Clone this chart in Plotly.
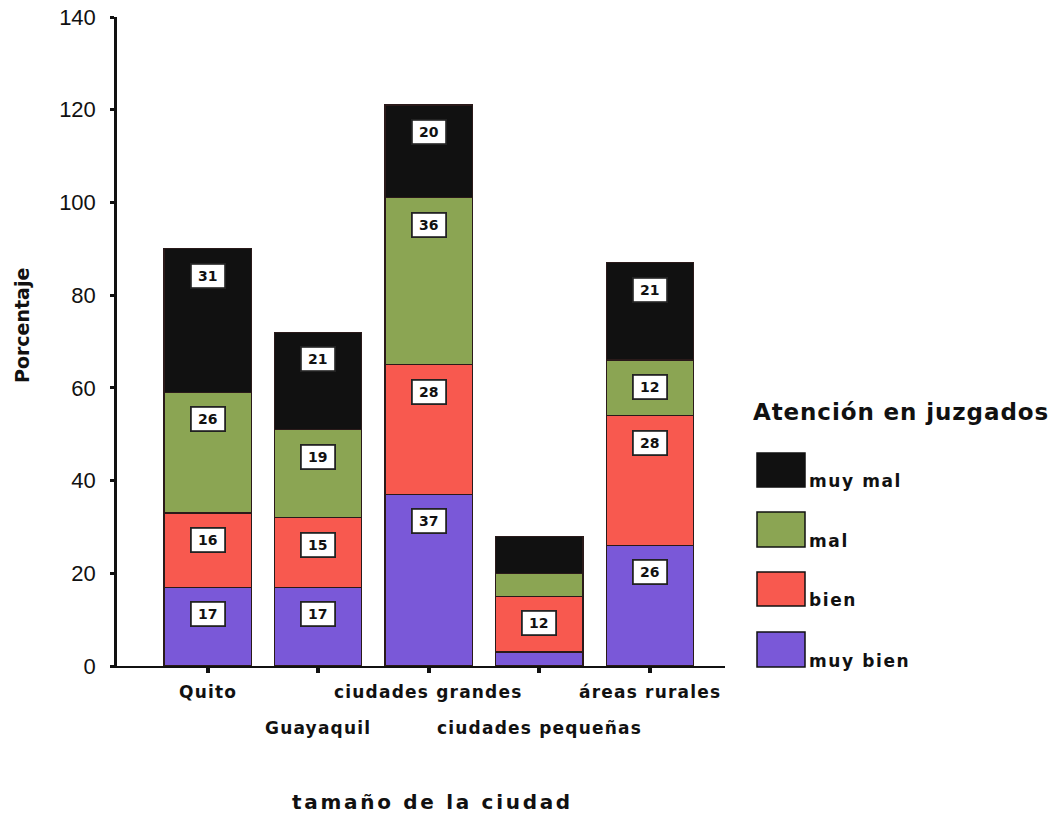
import plotly.graph_objects as go

categories = ["Quito", "Guayaquil", "ciudades grandes", "ciudades pequeñas", "áreas rurales"]
label_row = [0, 1, 0, 1, 0]          # staggered category labels
series_names = ["muy bien", "bien", "mal", "muy mal"]
muy_bien = [17, 17, 37, 3, 26]
bien = [16, 15, 28, 12, 28]
mal = [26, 19, 36, 5, 12]
muy_mal = [31, 21, 20, 8, 21]
series_values = [muy_bien, bien, mal, muy_mal]
colors = ["#7a58d8", "#f8594f", "#8ba553", "#111111"]
y_ticks = [0, 20, 40, 60, 80, 100, 120, 140]
label_min = 10

# page pixels (the html body adds an 8px margin)
OFF = 8
L, R, T, B = 117, 725, 17, 666
W_PX, H_PX = 1052, 808


def px(xp):
    return (xp - L) / (R - L)


def py(yp):
    return (B - yp) / (B - T)


def spaced(text, sp):
    return f'<span style="letter-spacing:{sp}px">{text}</span>'


xs = list(range(len(categories)))
fig = go.Figure()
for name, vals, col in zip(series_names, series_values, colors):
    fig.add_trace(go.Bar(
        x=xs, y=vals, name=name, width=0.79,
        marker=dict(color=col, line=dict(color="#2a1a1a", width=1.2)),
        showlegend=False, hoverinfo="x+y+name",
    ))

annotations = []
for i in xs:
    cum = 0
    for vals in series_values:
        v = vals[i]
        cum += v
        if v >= label_min:
            annotations.append(dict(
                x=i, y=cum, xref="x", yref="y", text=f"<b>{v}</b>",
                showarrow=False, yshift=-27, yanchor="middle",
                bgcolor="white", bordercolor="#222222", borderwidth=1.8,
                borderpad=3, width=26,
                font=dict(family="DejaVu Sans", size=14, color="#111111"),
            ))

# staggered category labels
for i, (cat, row) in enumerate(zip(categories, label_row)):
    annotations.append(dict(
        x=i, y=0, xref="x", yref="paper", text=f"<b>{spaced(cat, 1.2)}</b>",
        showarrow=False, yanchor="middle", yshift=-(26 + 36 * row),
        font=dict(family="DejaVu Sans", size=17, color="#111111"),
    ))

# axis titles
annotations.append(dict(
    x=px(432), y=py(802), xref="paper", yref="paper",
    text=f"<b>{spaced('tamaño de la ciudad', 2.7)}</b>", showarrow=False,
    xanchor="center", yanchor="middle",
    font=dict(family="DejaVu Sans", size=20, color="#111111")))
annotations.append(dict(
    x=px(22), y=py(326), xref="paper", yref="paper",
    text="<b>Porcentaje</b>", showarrow=False, textangle=-90,
    xanchor="center", yanchor="middle",
    font=dict(family="DejaVu Sans", size=19, color="#111111")))

# legend (hand drawn to match the large swatches)
legend_items = [("muy mal", "#111111", 453, 487, 481),
                ("mal", "#8ba553", 512, 547, 541),
                ("bien", "#f8594f", 572, 606, 600),
                ("muy bien", "#7a58d8", 632, 667, 661)]
shapes = []
for name, col, y0, y1, ty in legend_items:
    shapes.append(dict(type="rect", xref="paper", yref="paper",
                       x0=px(757), x1=px(805), y0=py(y1), y1=py(y0),
                       fillcolor=col, line=dict(color="#111111", width=1.5)))
    annotations.append(dict(x=px(807), y=py(ty), xref="paper", yref="paper",
                            text=f"<b>{spaced(name, 1.6)}</b>", showarrow=False,
                            xanchor="left", yanchor="middle",
                            font=dict(family="DejaVu Sans", size=17, color="#111111")))
annotations.append(dict(x=px(751), y=py(412), xref="paper", yref="paper",
                        text=f"<b>{spaced('Atención en juzgados', 0.9)}</b>", showarrow=False,
                        xanchor="left", yanchor="middle",
                        font=dict(family="DejaVu Sans", size=23, color="#111111")))

fig.update_layout(
    width=W_PX, height=H_PX,
    margin=dict(l=L - OFF, r=W_PX - (R - OFF), t=T - OFF, b=H_PX - (B - OFF),
                autoexpand=False),
    paper_bgcolor="white", plot_bgcolor="white",
    barmode="stack", bargap=0.2,
    annotations=annotations, shapes=shapes,
    xaxis=dict(
        range=[-0.82, 4.68], tickvals=xs, showticklabels=False,
        automargin=False,
        showline=True, linecolor="#111111", linewidth=2,
        ticks="outside", ticklen=5, tickwidth=4, tickcolor="#111111",
        showgrid=False, zeroline=False,
    ),
    yaxis=dict(
        range=[0, 140], tickvals=y_ticks,
        automargin=False, ticklabelstandoff=10, ticklabeloverflow="allow",
        showline=True, linecolor="#111111", linewidth=2.5,
        ticks="outside", ticklen=4, tickwidth=3, tickcolor="#111111",
        showgrid=False, zeroline=False,
        tickfont=dict(family="Liberation Sans, Arial", size=22, color="#111111"),
    ),
)

fig.write_html("out.html")
